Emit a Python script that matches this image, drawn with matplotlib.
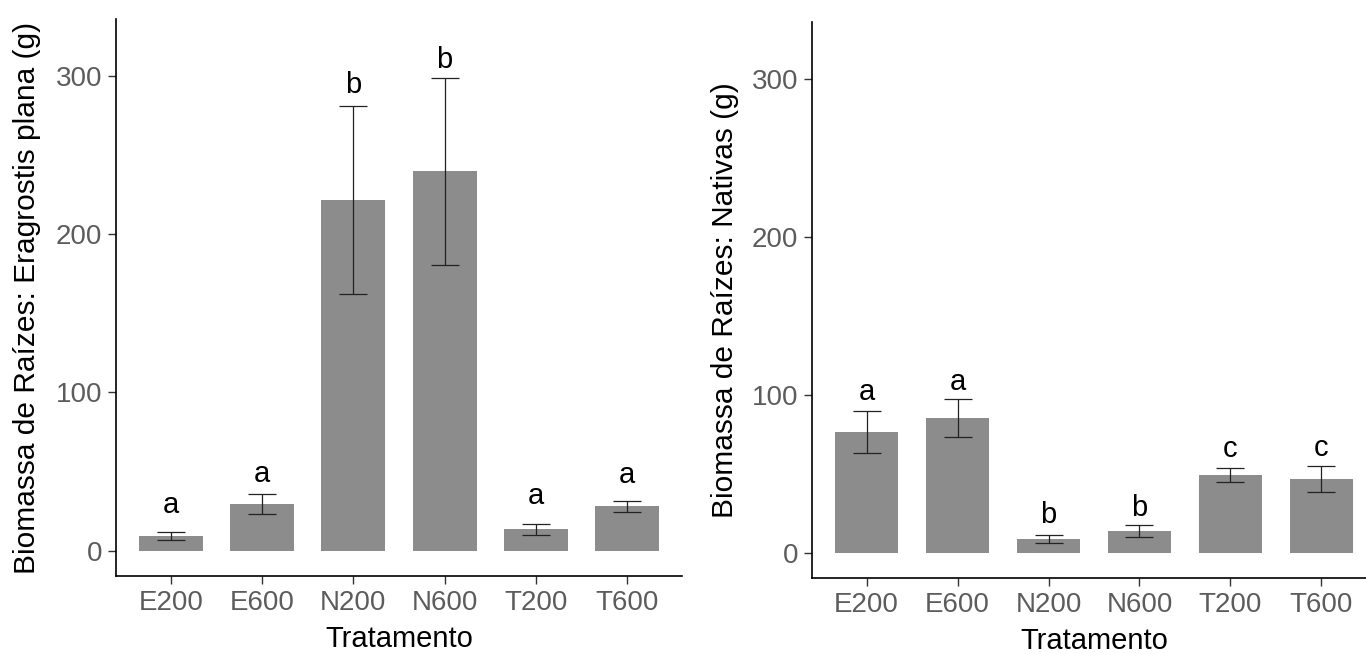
import matplotlib
matplotlib.use("Agg")
import matplotlib.pyplot as plt

plt.rcParams["font.family"] = ["Liberation Sans", "DejaVu Sans"]

# Treatments (x axis)
tratamentos = ["E200", "E600", "N200", "N600", "T200", "T600"]

# Left panel: Eragrostis plana root biomass (g), mean and standard error
erag_media = [9.2, 29.5, 221.8, 239.7, 13.5, 28.0]
erag_ep = [2.6, 6.4, 59.5, 59.0, 3.3, 3.7]
erag_letras = ["a", "a", "b", "b", "a", "a"]
erag_letra_y = [23.5, 43.5, 289.0, 304.8, 29.4, 42.5]

# Right panel: native species root biomass (g)
nat_media = [76.5, 85.3, 8.8, 13.9, 49.4, 46.8]
nat_ep = [13.3, 12.1, 2.5, 3.8, 4.4, 8.2]
nat_letras = ["a", "a", "b", "b", "c", "c"]
nat_letra_y = [96.8, 103.1, 18.9, 23.5, 60.9, 61.5]

yticks = [0, 100, 200, 300]

W, H = 1366, 654
fig = plt.figure(figsize=(W / 100, H / 100), dpi=100)


def painel(rect, media, ep, letras, letra_y, ylabel, label_x):
    ax = fig.add_axes(rect)
    x = range(len(tratamentos))
    ax.bar(x, media, width=0.7, color="#8c8c8c", zorder=1)
    ax.errorbar(x, media, yerr=ep, fmt="none", ecolor="#222222",
                elinewidth=0.9, capsize=10, capthick=0.9, zorder=2)
    # significance letters
    for xi, letra, ly in zip(x, letras, letra_y):
        ax.text(xi, ly, letra, ha="center", va="baseline",
                fontsize=21, color="black")

    ax.set_xlim(-0.6, 5.6)
    ax.set_ylim(-16, 336)
    ax.set_xticks(list(x))
    ax.set_xticklabels(tratamentos)
    ax.set_yticks(yticks)

    for s in ["top", "right"]:
        ax.spines[s].set_visible(False)
    for s in ["left", "bottom"]:
        ax.spines[s].set_linewidth(1.2)
        ax.spines[s].set_color("black")

    ax.tick_params(axis="both", length=6, width=1.0, color="#333333",
                   labelcolor="#5c5c5c", labelsize=20, pad=4)

    ax.set_xlabel("Tratamento", fontsize=21, color="black")
    ax.xaxis.set_label_coords(0.5, -0.114)
    ax.xaxis.label.set_va("center")
    ax.set_ylabel(ylabel, fontsize=21.5, color="black")
    ax.yaxis.set_label_coords(label_x, 0.5)
    ax.yaxis.label.set_va("center")
    return ax


painel([116 / W, (H - 576) / H, 566 / W, 557 / H],
       erag_media, erag_ep, erag_letras, erag_letra_y,
       "Biomassa de Raízes: Eragrostis plana (g)", -0.157)

painel([812 / W, (H - 578) / H, 564 / W, 556 / H],
       nat_media, nat_ep, nat_letras, nat_letra_y,
       "Biomassa de Raízes: Nativas (g)", -0.154)

fig.savefig("out.png", dpi=100)
